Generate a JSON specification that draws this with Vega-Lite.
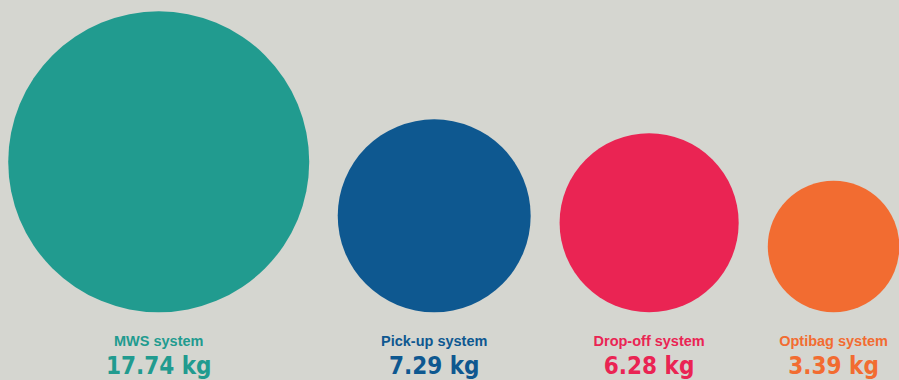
{
  "$schema": "https://vega.github.io/schema/vega-lite/v6.json",
  "width": 899,
  "height": 380,
  "padding": 0,
  "autosize": {"type": "fit", "contains": "padding"},
  "background": "#d5d6d0",
  "config": {"view": {"stroke": null}},
  "data": {
    "values": [
      {"system": "MWS system", "kg": 17.74},
      {"system": "Pick-up system", "kg": 7.29},
      {"system": "Drop-off system", "kg": 6.28},
      {"system": "Optibag system", "kg": 3.39}
    ]
  },
  "transform": [
    {"calculate": "sqrt(datum.kg)", "as": "r"},
    {"calculate": "2 * datum.r + 0.85", "as": "seg"},
    {"window": [{"op": "sum", "field": "seg", "as": "cum"}], "sort": [{"field": "kg", "order": "descending"}], "frame": [null, 0]},
    {"calculate": "datum.cum - 0.85 - datum.r", "as": "cx"},
    {"calculate": "datum.r", "as": "cy"},
    {"calculate": "format(datum.kg, '.2f') + ' kg'", "as": "label"}
  ],
  "encoding": {
    "x": {"field": "cx", "type": "quantitative", "scale": {"domain": [-0.2603, 24.901], "nice": false, "zero": false}, "axis": null},
    "color": {
      "field": "system",
      "type": "nominal",
      "scale": {
        "domain": ["MWS system", "Pick-up system", "Drop-off system", "Optibag system"],
        "range": ["#219b8f", "#0e5890", "#ea2453", "#f26c31"]
      },
      "legend": null
    }
  },
  "layer": [
    {
      "mark": {"type": "circle", "opacity": 1, "strokeWidth": 0},
      "encoding": {
        "y": {"field": "cy", "type": "quantitative", "scale": {"domain": [-1.8948, 8.7406], "nice": false, "zero": false}, "axis": null},
        "size": {"field": "kg", "type": "quantitative", "scale": {"domain": [0, 17.74], "range": [0, 90601]}, "legend": null}
      }
    },
    {
      "mark": {"type": "text", "font": "Liberation Sans", "fontWeight": "bold", "fontSize": 14.5, "align": "center", "baseline": "alphabetic"},
      "encoding": {
        "y": {"datum": -0.943, "type": "quantitative"},
        "text": {"field": "system"}
      }
    },
    {
      "mark": {"type": "text", "font": "DejaVu Sans Condensed", "fontWeight": "bold", "fontSize": 24, "align": "center", "baseline": "alphabetic"},
      "encoding": {
        "y": {"datum": -1.735, "type": "quantitative"},
        "text": {"field": "label"}
      }
    }
  ]
}
